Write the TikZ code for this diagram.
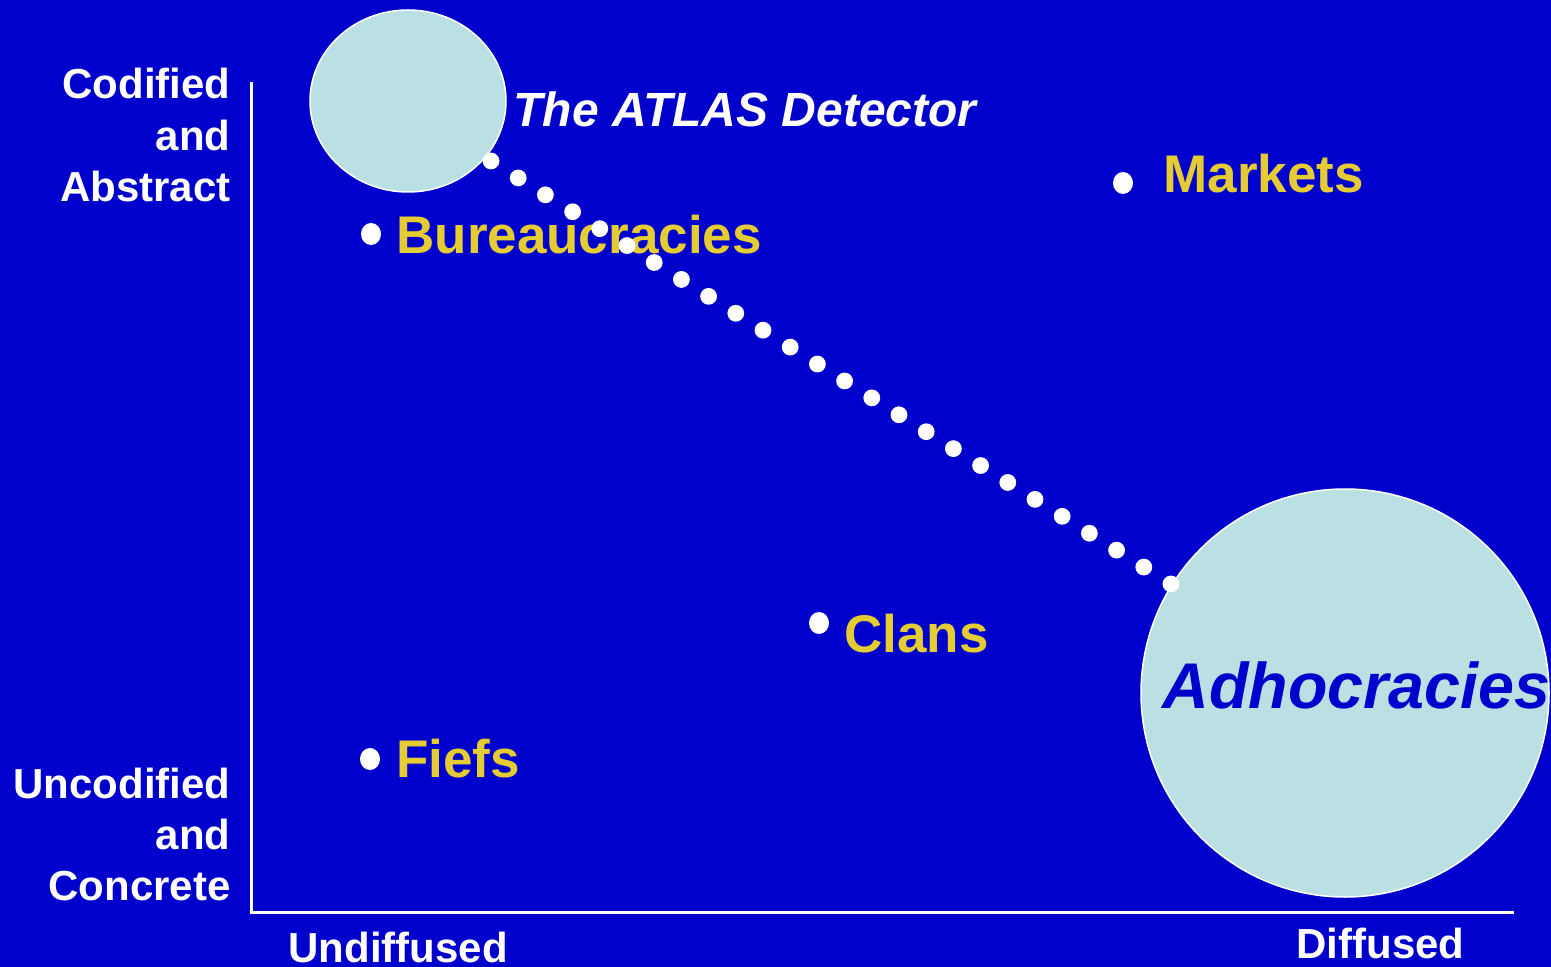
\documentclass[tikz,border=0pt]{standalone}
\usepackage{fontspec}
\setmainfont{Liberation Sans}
\usetikzlibrary{shapes.geometric}
\definecolor{slideblue}{RGB}{0,0,204}
\definecolor{bubble}{RGB}{186,224,227}
\definecolor{gold}{RGB}{230,204,51}
\tikzset{
    axis-line/.style = {white, line width=1.5pt},
    axis-label/.style = {text=white, font=\bfseries\fontsize{21}{25}\selectfont, inner sep=0pt},
    form-label/.style = {text=gold, font=\bfseries\fontsize{26.5}{30}\selectfont, inner sep=0pt, anchor=base west},
    bullet/.style = {fill=white, ellipse, minimum width=10pt, minimum height=11pt, inner sep=0pt},
    bubble-node/.style = {draw=white, fill=bubble, line width=0.75pt, inner sep=0pt},
    dot-line/.style = {white, line width=8.4pt, line cap=round, dash pattern=on 0pt off 16.016pt},
}

\begin{document}
\begin{tikzpicture}[x=0.5pt, y=-0.5pt]
\fill[slideblue] (0,0) rectangle (1551,967);
\useasboundingbox (0,0) rectangle (1551,967);

% axes
\coordinate (ytop) at (251,82);
\coordinate (origin) at (251,912);
\coordinate (xend) at (1514,912);
\draw[axis-line] (ytop) -- (origin) -- (xend);

\node[axis-label, anchor=base east] (codified) at (231,99) {Codified};
\node[axis-label, anchor=base east] (and1) at (231,151) {and};
\node[axis-label, anchor=base east] (abstract) at (231,202) {Abstract};
\node[axis-label, anchor=base east] (uncodified) at (231,798) {Uncodified};
\node[axis-label, anchor=base east] (and2) at (231,849) {and};
\node[axis-label, anchor=base east] (concrete) at (231,900) {Concrete};
\node[axis-label, anchor=base west] (undiffused) at (288,962) {Undiffused};
\node[axis-label, anchor=base west] (diffused) at (1296,958) {Diffused};

% bubbles
\node[bubble-node, ellipse, minimum width=98pt, minimum height=91pt] (atlas) at (408,101) {};
\node[bubble-node, circle, minimum size=204pt] (adhoc) at (1345,693) {};
\node[text=white, inner sep=0pt, anchor=base west, font=\bfseries\itshape\fontsize{24}{28}\selectfont] (atlas-label) at (513,127) {The ATLAS Detector};
\node[text=slideblue, inner sep=0pt, anchor=base west, font=\bfseries\itshape\fontsize{32.3}{38}\selectfont] (adhoc-label) at (1162,708) {Adhocracies};

% the four forms
\node[bullet] (b-bureau) at (371,234) {};
\node[bullet] (b-markets) at (1123,183) {};
\node[bullet] (b-clans) at (819,623) {};
\node[bullet] (b-fiefs) at (370,759) {};
\node[form-label] (bureau) at (396,254) {Bureaucracies};
\node[form-label] (markets) at (1163,193) {Markets};
\node[form-label] (clans) at (844,652) {Clans};
\node[form-label] (fiefs) at (396,777) {Fiefs};

% dotted path between the bubbles
\coordinate (dot-start) at (491,161);
\coordinate (dot-end) at (1171,584);
\draw[dot-line] (dot-start) -- (dot-end);
\end{tikzpicture}
\end{document}
